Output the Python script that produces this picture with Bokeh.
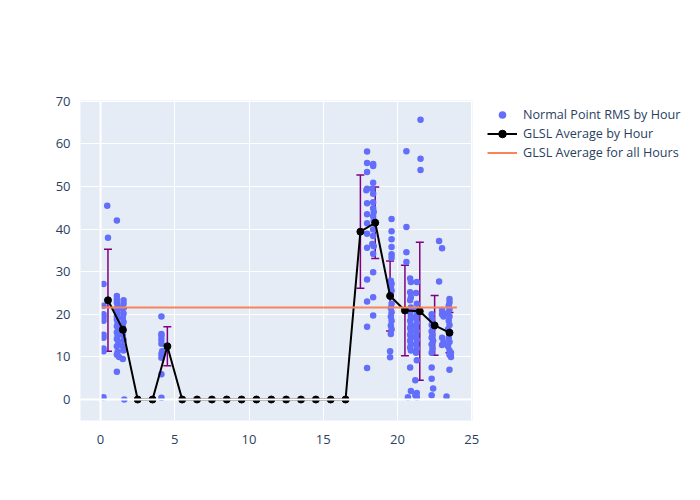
from bokeh.plotting import figure
from bokeh.models import ColumnDataSource, Whisker, TeeHead, Legend, LegendItem, FixedTicker, Span
from bokeh.embed import file_html
from bokeh.resources import INLINE

# Normal point RMS by hour (time of day, value)
pts_x = [
    0.45, 0.5, 0.2, 0.2, 0.2, 0.2, 0.2, 0.2, 0.2, 0.2, 0.2, 0.2,
    1.1, 1.1, 1.1, 1.1, 1.15, 1.1, 1.15, 1.1, 1.1, 1.15, 1.1, 1.2, 1.1, 1.15, 1.1, 1.2, 1.1, 1.15, 1.1, 1.25, 1.1,
    1.55, 1.55, 1.5, 1.55, 1.5, 1.55, 1.5, 1.55, 1.5, 1.55, 1.5, 1.55, 1.5, 1.6,
    4.1, 4.1, 4.1, 4.1, 4.1, 4.15, 4.1, 4.1, 4.1, 4.1,
    17.95, 17.95, 17.95, 17.95, 17.9, 17.95, 17.95, 17.95, 17.95, 17.95, 17.95, 17.95, 17.95, 17.95,
    18.36, 18.36, 18.36, 18.3, 18.36, 18.36, 18.36, 18.4, 18.36, 18.4, 18.36, 18.36, 18.3, 18.4, 18.36, 18.36, 18.36, 18.36,
    19.6, 19.6, 19.6, 19.6, 19.6, 19.6, 19.55, 19.6, 19.55, 19.6, 19.55, 19.6, 19.55, 19.6, 19.55, 19.6, 19.55, 19.6, 19.55, 19.5, 19.5,
    20.6, 20.6, 20.6, 20.6, 20.85, 20.9, 20.85, 20.9, 20.85, 20.9, 20.85, 20.9, 20.85, 20.9, 20.85, 20.9, 20.85, 20.9, 20.85, 20.9, 20.85, 20.9, 20.85, 20.9, 20.7,
    21.55, 21.55, 21.55, 21.3, 21.25, 21.3, 21.25, 21.3, 21.25, 21.3, 21.25, 21.3, 21.25, 21.3, 21.25, 21.3, 21.25, 21.3, 21.2, 21.3, 21.2, 21.3,
    22.8, 22.8, 22.3, 22.3, 22.35, 22.3, 22.4, 22.3, 22.35, 22.3, 22.4, 22.3, 22.35, 22.3, 22.3, 22.3, 22.4, 22.3,
    23.0, 23.5, 23.5, 23.45, 23.5, 23.4, 23.5, 23.45, 23.5, 23.4, 23.5, 23.45, 23.5, 23.4, 23.5, 23.5, 23.5, 23.3,
    23.0, 23.0, 23.1, 23.0, 23.1, 23.0, 23.6, 23.6,
]
pts_y = [
    45.5, 38.0, 27.1, 22.0, 20.0, 19.3, 18.5, 15.2, 14.5, 12.0, 11.3, 0.5,
    42.0, 24.3, 23.5, 22.8, 22.0, 21.3, 20.3, 19.5, 18.8, 18.0, 17.2, 16.5, 15.8, 15.0, 14.2, 13.5, 12.5, 11.2, 10.5, 10.0, 6.5,
    23.3, 22.5, 21.3, 20.2, 19.2, 18.2, 17.2, 16.2, 15.2, 14.0, 12.5, 11.5, 9.5, 0.0,
    19.5, 15.4, 14.9, 14.0, 13.1, 11.3, 10.7, 9.8, 5.9, 0.4,
    58.2, 55.5, 53.4, 49.5, 49.1, 46.1, 43.5, 41.4, 38.9, 35.6, 28.2, 23.0, 17.1, 7.4,
    55.3, 54.8, 50.9, 49.5, 48.3, 46.3, 44.9, 44.0, 43.0, 42.0, 39.9, 38.4, 36.5, 36.0, 34.2, 29.9, 24.0, 19.7,
    42.4, 39.5, 37.6, 35.8, 34.1, 33.3, 27.9, 27.2, 26.4, 25.6, 24.8, 22.5, 21.5, 20.5, 19.5, 18.5, 17.4, 16.5, 15.4, 11.3, 9.9,
    58.3, 40.5, 34.6, 32.3, 28.4, 27.6, 25.2, 24.0, 23.3, 21.6, 20.5, 19.5, 18.5, 17.5, 16.8, 16.0, 15.2, 14.5, 13.8, 13.0, 12.2, 11.5, 7.5, 2.0, 0.5,
    65.7, 56.5, 53.9, 27.6, 25.0, 22.5, 21.0, 20.0, 19.0, 18.0, 17.0, 16.0, 15.0, 14.0, 13.0, 12.0, 11.0, 9.2, 4.5, 1.5, 1.0, 0.5,
    37.2, 27.7, 20.0, 19.0, 18.3, 17.5, 16.8, 16.0, 15.2, 14.5, 13.8, 13.0, 12.0, 11.0, 7.5, 4.9, 2.6, 1.0,
    35.5, 23.6, 22.8, 22.0, 21.2, 20.3, 19.5, 18.5, 17.5, 16.5, 15.5, 14.5, 13.5, 12.5, 11.5, 10.5, 7.0, 0.7,
    21.0, 20.0, 19.5, 14.5, 13.5, 12.8, 11.0, 10.0,
]

# GLSL average by hour, with its spread
hours = [0.5, 1.5, 2.5, 3.5, 4.5, 5.5, 6.5, 7.5, 8.5, 9.5, 10.5, 11.5,
         12.5, 13.5, 14.5, 15.5, 16.5, 17.5, 18.5, 19.5, 20.5, 21.5, 22.5, 23.5]
avg_by_hour = [23.3, 16.4, 0, 0, 12.5, 0, 0, 0, 0, 0, 0, 0,
               0, 0, 0, 0, 0, 39.4, 41.5, 24.3, 20.9, 20.7, 17.4, 15.7]
std_by_hour = [12.0, 4.9, None, None, 4.6, None, None, None, None, None, None, None,
               None, None, None, None, None, 13.3, 8.4, 8.2, 10.6, 16.2, 7.0, 4.7]

# GLSL average over all hours
all_hours_span = [0, 24]
avg_all = 21.6

p = figure(frame_width=392, frame_height=320, output_backend="svg", toolbar_location=None,
           x_range=(-1.35, 25.05), y_range=(-4.93, 70.2),
           min_border_left=80, min_border_right=228, min_border_top=100, min_border_bottom=80,
           background_fill_color="#E5ECF6", border_fill_color="white", outline_line_color=None)

for ax in (p.xaxis[0], p.yaxis[0]):
    ax.axis_line_color = None
    ax.major_tick_line_color = None
    ax.minor_tick_line_color = None
    ax.major_label_text_font = "Open Sans"
    ax.major_label_text_font_size = "13px"
    ax.major_label_text_color = "#2a3f5f"
p.xaxis[0].ticker = FixedTicker(ticks=[0, 5, 10, 15, 20, 25])
p.yaxis[0].ticker = FixedTicker(ticks=[0, 10, 20, 30, 40, 50, 60, 70])
p.xaxis[0].major_label_standoff = 8
p.yaxis[0].major_label_standoff = 4
p.xgrid.grid_line_color = "white"
p.ygrid.grid_line_color = "white"
p.xgrid.grid_line_width = 1
p.ygrid.grid_line_width = 1
p.add_layout(Span(location=0, dimension="width", line_color="white", line_width=2))
p.add_layout(Span(location=0, dimension="height", line_color="white", line_width=2))

r_pts = p.scatter(pts_x, pts_y, size=6.5, color="#636efa", line_color=None)

err_hours = [h for h, s in zip(hours, std_by_hour) if s is not None]
err_lo = [a - s for a, s in zip(avg_by_hour, std_by_hour) if s is not None]
err_hi = [a + s for a, s in zip(avg_by_hour, std_by_hour) if s is not None]
esrc = ColumnDataSource(dict(x=err_hours, lo=err_lo, hi=err_hi))
p.add_layout(Whisker(source=esrc, base="x", lower="lo", upper="hi",
                     line_color="purple", line_width=1.5,
                     upper_head=TeeHead(size=8, line_color="purple", line_width=1.5),
                     lower_head=TeeHead(size=8, line_color="purple", line_width=1.5)))

r_line = p.line(hours, avg_by_hour, line_color="black", line_width=2)
r_mark = p.scatter(hours, avg_by_hour, size=7, color="black")

r_all = p.line(all_hours_span, [avg_all, avg_all], line_color="#F8845A", line_width=2)

legend = Legend(items=[
    LegendItem(label="Normal Point RMS by Hour", renderers=[r_pts]),
    LegendItem(label="GLSL Average by Hour", renderers=[r_line, r_mark]),
    LegendItem(label="GLSL Average for all Hours", renderers=[r_all]),
], location=(15, 258), border_line_color=None, background_fill_alpha=0,
    label_text_font="Open Sans", label_text_font_size="12.6px", label_text_color="#2a3f5f",
    glyph_width=30, glyph_height=19, label_height=19, spacing=0, label_standoff=6,
    padding=0, margin=0)
p.add_layout(legend, "right")

open("out.html", "w").write(file_html(p, INLINE))
